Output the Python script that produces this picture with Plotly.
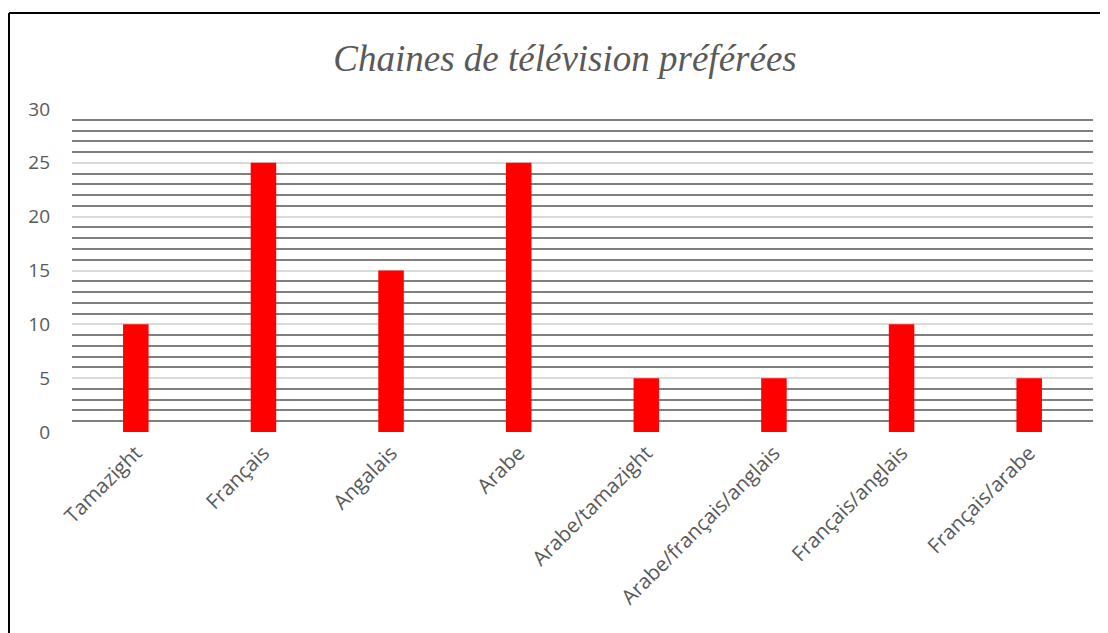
import plotly.graph_objects as go

categories = ["Tamazight", "Français", "Angalais", "Arabe", "Arabe/tamazight",
              "Arabe/français/anglais", "Français/anglais", "Français/arabe"]
values = [10, 25, 15, 25, 5, 5, 10, 5]

# the page adds an 8px body margin, so the figure is a bit smaller than the window
W, H = 1100, 625
L, R, T, B = 64, 15, 101, 201
pw = W - L - R
ph = H - T - B

fig = go.Figure()
fig.add_trace(go.Bar(
    x=categories,
    y=values,
    marker_color="#ff0000",
    marker_line_width=0,
))

# outer frame (only left and top edges show)
x_left = (1 - L) / pw
y_top = (H - B - 5) / ph
fig.add_shape(type="line", xref="paper", yref="paper",
              x0=x_left, x1=x_left, y0=y_top, y1=-1.0,
              line=dict(color="black", width=2))
fig.add_shape(type="line", xref="paper", yref="paper",
              x0=x_left, x1=1.1, y0=y_top, y1=y_top,
              line=dict(color="black", width=2))

fig.update_layout(
    width=W,
    height=H,
    margin=dict(l=L, r=R, t=T, b=B),
    plot_bgcolor="white",
    paper_bgcolor="white",
    bargap=0.8,
    showlegend=False,
    title=dict(
        text="<i>Chaines de télévision préférées</i>",
        font=dict(family="Liberation Serif", size=37, color="#595959"),
        x=557 / W, xanchor="center", y=1 - 50 / H, yanchor="middle",
    ),
    font=dict(family="Open Sans", size=18, color="#595959"),
    xaxis=dict(
        tickangle=-45,
        showgrid=False,
        showline=False,
        ticks="",
        ticklabelstandoff=4,
        tickfont=dict(size=20.5, color="#595959"),
    ),
    yaxis=dict(
        range=[0, 30],
        dtick=5,
        showgrid=True,
        gridcolor="#d9d9d9",
        gridwidth=1.5,
        zeroline=False,
        showline=False,
        ticks="",
        ticklabelstandoff=21,
        tickfont=dict(size=19, color="#595959"),
        minor=dict(dtick=1, showgrid=True, gridcolor="#7f7f7f", gridwidth=1.5),
    ),
)

fig.write_html("out.html")
